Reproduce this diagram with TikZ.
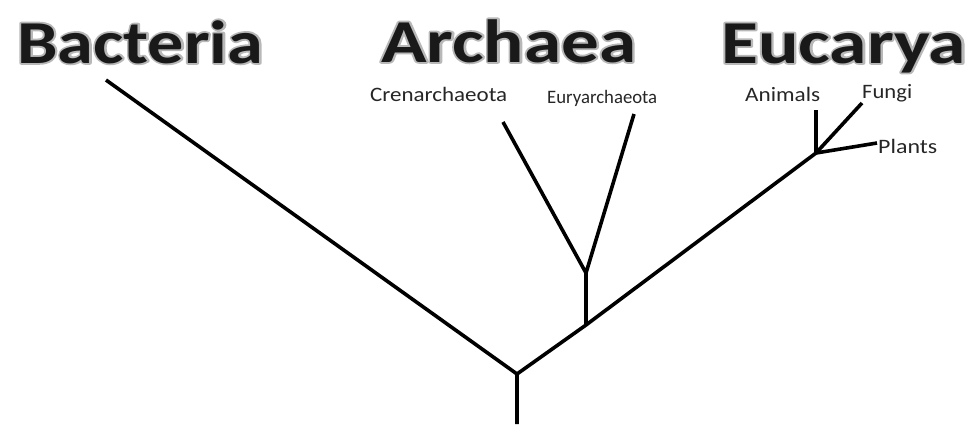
\documentclass[tikz,border=0pt]{standalone}
\usepackage{fontspec}
\setmainfont{Carlito}
\usepackage{graphicx}
\newcommand\glowtxt[1]{\rlap{\special{pdf:literal direct 1 Tr 3.6 w 1 j 0.72 G}#1\special{pdf:literal direct 0 Tr 0 G}}#1}
\tikzset{
  branch/.style={line width=3.6pt, black, line cap=butt, line join=miter},
  title/.style={anchor=base west, inner sep=0pt, font=\bfseries\fontsize{61}{61}\selectfont, text=black!90},
  taxon/.style={anchor=base west, inner sep=0pt, text=black!85},
}
\begin{document}
\begin{tikzpicture}[x=1pt, y=-1pt]
\useasboundingbox (0,0) rectangle (968,424);
% coordinates
\coordinate (base) at (517,424);
\coordinate (r) at (517,374);
\coordinate (bend) at (106,80);
\coordinate (j) at (586,325);
\coordinate (a) at (586,273);
\coordinate (cren) at (503,122);
\coordinate (eury) at (634,114);
\coordinate (e) at (816,153);
\coordinate (anim) at (816,110);
\coordinate (fung) at (862,103);
\coordinate (plan) at (877,143);
% titles
\node[title] (bact) at (17,63) {\resizebox{246pt}{\height}{\glowtxt{Bacteria}}};
\node[title] (arch) at (381,62) {\resizebox{255pt}{\height}{\glowtxt{Archaea}}};
\node[title] (euca) at (721,63) {\resizebox{245pt}{\height}{\glowtxt{Eucarya}}};
% labels
\node[taxon] (crenl) at (370,101) {\resizebox{137pt}{\height}{\fontsize{20.5}{20.5}\selectfont Crenarchaeota}};
\node[taxon] (euryl) at (547,103.5) {\resizebox{110pt}{\height}{\fontsize{19}{19}\selectfont Euryarchaeota}};
\node[taxon] (animl) at (745,101) {\resizebox{75pt}{\height}{\fontsize{20.5}{20.5}\selectfont Animals}};
\node[taxon] (fungl) at (862,98) {\resizebox{50pt}{\height}{\fontsize{20.5}{20.5}\selectfont Fungi}};
\node[taxon] (planl) at (878,153) {\resizebox{59pt}{\height}{\fontsize{20.5}{20.5}\selectfont Plants}};
% tree
\draw[branch] (base) -- (r) -- (bend);
\draw[branch] (r) -- (j) -- (e);
\draw[branch] (j) -- (a);
\draw[branch] (cren) -- (a) -- (eury);
\draw[branch] (e) -- (anim);
\draw[branch] (e) -- (fung);
\draw[branch] (e) -- (plan);
\end{tikzpicture}
\end{document}
